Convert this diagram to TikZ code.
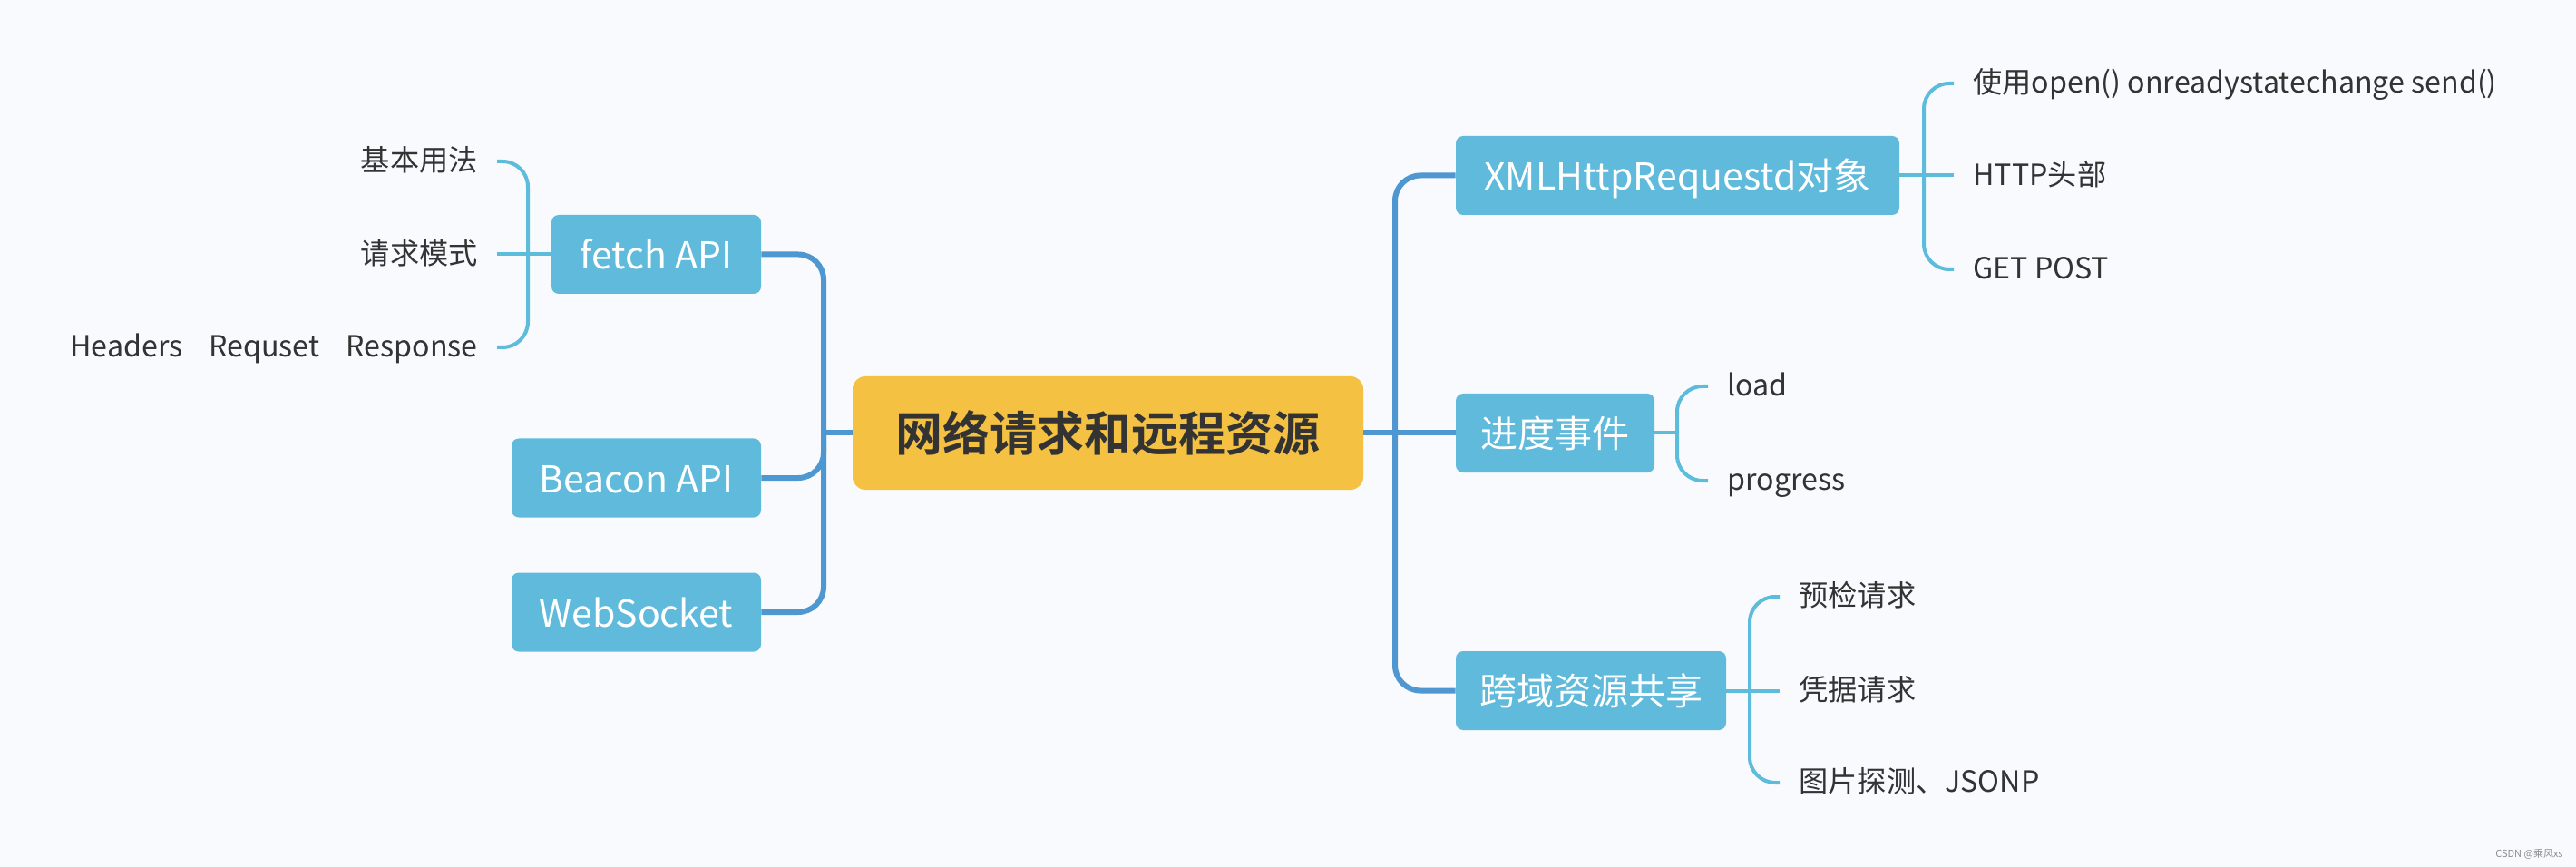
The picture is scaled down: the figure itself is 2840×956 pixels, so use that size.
\documentclass[tikz,border=0pt]{standalone}
\usepackage{fontspec}
\setmainfont{Noto Sans CJK SC}
\newfontfamily\cjkbold{Noto Sans CJK SC Bold}
\definecolor{bg}{HTML}{F8FAFD}
\definecolor{boxblue}{HTML}{5FBADB}
\definecolor{trunkblue}{HTML}{4F97D1}
\definecolor{twigblue}{HTML}{5DBBDB}
\definecolor{mainyellow}{HTML}{F4C142}
\definecolor{txt}{HTML}{333333}
\begin{document}
\begin{tikzpicture}[x=0.5pt,y=-0.5pt,
  topic/.style={rectangle, rounded corners=4pt, fill=boxblue, text=white,
    font=\fontsize{20.5}{24}\selectfont, inner sep=0pt, minimum height=43.5pt,
    text height=16pt, text depth=0pt},
  mainbox/.style={rectangle, rounded corners=7pt, fill=mainyellow, text=txt,
    font=\cjkbold\fontsize{26}{30}\selectfont, inner sep=0pt,
    minimum width=281.5pt, minimum height=62.5pt,
    text height=19.8pt, text depth=0pt},
  leafL/.style={anchor=east, text=txt, font=\fontsize{16.1}{18}\selectfont,
    inner xsep=10.5pt, inner ysep=0pt, text height=10.6pt, text depth=0pt},
  leafR/.style={anchor=west, text=txt, font=\fontsize{16.1}{18}\selectfont,
    inner xsep=10.5pt, inner ysep=0pt, text height=10.6pt, text depth=0pt},
  trunk/.style={draw=trunkblue, line width=3pt, rounded corners=14pt},
  twig/.style={draw=twigblue, line width=2pt, rounded corners=14pt}
]
\fill[bg] (0,0) rectangle (2840,956);
\useasboundingbox (0,0) rectangle (2840,956);

% central
\node[mainbox] (center) at (1221.5,477.5) {网络请求和远程资源};

% left topics
\node[topic, minimum width=115.5pt] (fetch) at (723.5,280.5) {fetch API};
\node[topic, minimum width=137.5pt] (beacon) at (701.5,527) {Beacon API};
\node[topic, minimum width=137.5pt] (ws) at (701.5,675) {WebSocket};

% right topics
\node[topic, minimum width=244.5pt] (xhr) at (1849.5,193.5) {XMLHttpRequestd对象};
\node[topic, minimum width=109.5pt] (prog) at (1714.5,477.5) {进度事件};
\node[topic, minimum width=149pt] (cors) at (1754,761.5) {跨域资源共享};

% left leaves
\node[leafL] (f1) at (548,178) {基本用法};
\node[leafL] (f2) at (548,280.5) {请求模式};
\node[leafL] (f3) at (548,383) {Headers\hspace{0.9em}Requset\hspace{0.9em}Response};

% xhr leaves
\node[leafR] (x1) at (2154,92) {使用open() onreadystatechange send()};
\node[leafR] (x2) at (2154,193.5) {HTTP头部};
\node[leafR] (x3) at (2154,297) {GET POST};

% progress leaves
\node[leafR] (p1) at (1883,426) {load};
\node[leafR] (p2) at (1883,530) {progress};

% cors leaves
\node[leafR] (c1) at (1962,658) {预检请求};
\node[leafR] (c2) at (1962,761.5) {凭据请求};
\node[leafR] (c3) at (1962,863) {图片探测、JSONP};

% junctions
\coordinate (jl) at (908,477.5);
\coordinate (jr) at (1538,477.5);
\coordinate (jf) at (582,280.5);
\coordinate (jx) at (2121,193.5);
\coordinate (jp) at (1849,477.5);
\coordinate (jc) at (1929,761.5);

% main trunks
\draw[trunk] (center.west) -- (jl);
\draw[trunk] (jl) |- (fetch.east);
\draw[trunk] (jl) |- (beacon.east);
\draw[trunk] (jl) |- (ws.east);
\draw[trunk] (center.east) -- (jr);
\draw[trunk] (jr) |- (xhr.west);
\draw[trunk] (jr) -- (prog.west);
\draw[trunk] (jr) |- (cors.west);

% twigs
\draw[twig] (fetch.west) -- (jf);
\draw[twig] (jf) |- (f1.east);
\draw[twig] (jf) -- (f2.east);
\draw[twig] (jf) |- (f3.east);

\draw[twig] (xhr.east) -- (jx);
\draw[twig] (jx) |- (x1.west);
\draw[twig] (jx) -- (x2.west);
\draw[twig] (jx) |- (x3.west);

\draw[twig] (prog.east) -- (jp);
\draw[twig] (jp) |- (p1.west);
\draw[twig] (jp) |- (p2.west);

\draw[twig] (cors.east) -- (jc);
\draw[twig] (jc) |- (c1.west);
\draw[twig] (jc) -- (c2.west);
\draw[twig] (jc) |- (c3.west);

% watermark
\node[anchor=east, text=black!45, font=\fontsize{5.5}{6.5}\selectfont, inner sep=0pt] (wm) at (2826,942) {CSDN @乘风xs};
\end{tikzpicture}
\end{document}
